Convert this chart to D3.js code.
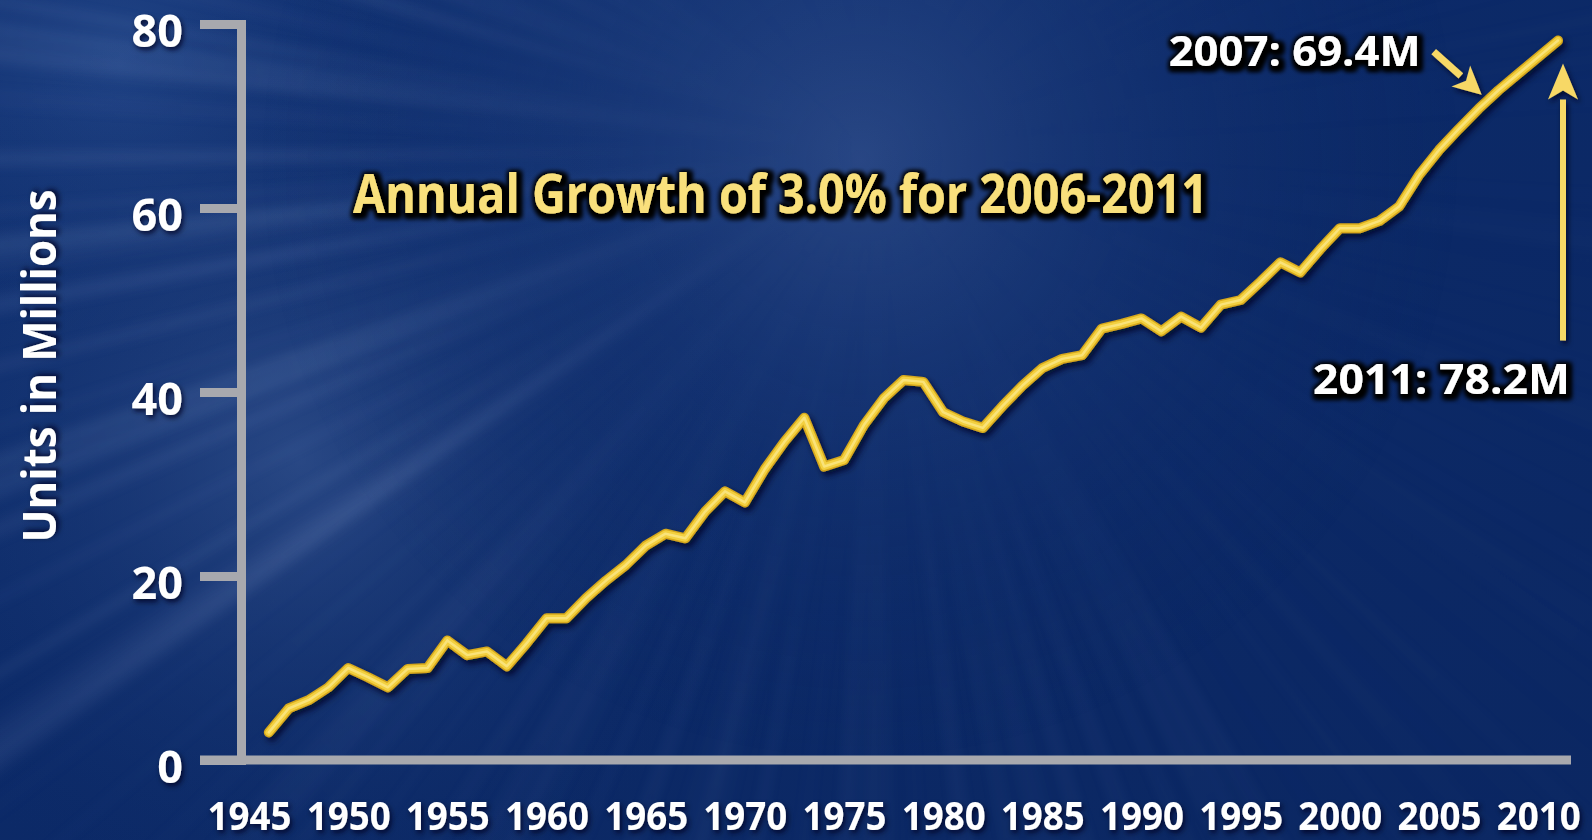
<!DOCTYPE html>
<html>
<head>
<meta charset="utf-8">
<script src="https://cdn.jsdelivr.net/npm/d3@7"></script>
<style>
  html, body { margin:0; padding:0; background:#0b2966; overflow:hidden; }
  svg { display:block; }
  text { font-family:"Open Sans", sans-serif; font-weight:700; }
</style>
</head>
<body>
<div id="chart"></div>
<script>
// chart data
const YEARS = [1946,1947,1948,1949,1950,1951,1952,1953,1954,1955,1956,1957,1958,1959,
               1960,1961,1962,1963,1964,1965,1966,1967,1968,1969,1970,1971,1972,1973,
               1974,1975,1976,1977,1978,1979,1980,1981,1982,1983,1984,1985,1986,1987,
               1988,1989,1990,1991,1992,1993,1994,1995,1996,1997,1998,1999,2000,2001,
               2002,2003,2004,2005,2006,2007,2008,2009,2010,2011];
const UNITS = [3.0, 5.6, 6.5, 7.9,10.0, 9.0, 7.9, 9.9,10.0,13.0,11.4,11.8,10.2,12.7,
               15.4,15.4,17.6,19.5,21.2,23.3,24.6,24.1,27.0,29.2,28.0,31.6,34.6,37.2,
               31.9,32.6,36.4,39.3,41.3,41.1,37.8,36.8,36.1,38.5,40.7,42.6,43.6,44.0,
               46.9,47.4,48.0,46.6,48.2,47.0,49.5,50.0,52.0,54.1,53.0,55.5,57.8,57.8,
               58.6,60.2,63.6,66.3,68.6,70.8,72.8,74.6,76.4,78.2];
const X_TICKS = [1945,1950,1955,1960,1965,1970,1975,1980,1985,1990,1995,2000,2005,2010];
const Y_TICKS = [0,20,40,60,80];

const TITLE   = "Annual Growth of 3.0% for 2006-2011";
const Y_TITLE = "Units in Millions";
const CALLOUT_YEARS  = [2007, 2011];
const CALLOUT_LABELS = ["2007: 69.4M", "2011: 78.2M"];

const W = 1592, H = 840;
const AXIS_GREY = "#a8a9ae";
const GOLD = "#f3d03f";

const svg = d3.select("#chart").append("svg")
  .attr("width", W).attr("height", H);

const defs = svg.append("defs");

// ── background ──────────────────────────────────────────────
const bgGrad = defs.append("linearGradient").attr("id", "bgGrad")
  .attr("x1", 0).attr("y1", 0).attr("x2", 1).attr("y2", 1);
bgGrad.append("stop").attr("offset", "0%").attr("stop-color", "#143576");
bgGrad.append("stop").attr("offset", "40%").attr("stop-color", "#0c2a68");
bgGrad.append("stop").attr("offset", "100%").attr("stop-color", "#0b2762");

const glow = defs.append("radialGradient").attr("id", "glow")
  .attr("gradientUnits", "userSpaceOnUse")
  .attr("cx", 860).attr("cy", 160).attr("r", 600);
glow.append("stop").attr("offset", "0%").attr("stop-color", "#5674b0").attr("stop-opacity", 0.38);
glow.append("stop").attr("offset", "40%").attr("stop-color", "#2f4f90").attr("stop-opacity", 0.25);
glow.append("stop").attr("offset", "100%").attr("stop-color", "#0e2d6c").attr("stop-opacity", 0);

const leftHaze = defs.append("radialGradient").attr("id", "leftHaze")
  .attr("gradientUnits", "userSpaceOnUse")
  .attr("cx", 300).attr("cy", 460).attr("r", 470);
leftHaze.append("stop").attr("offset", "0%").attr("stop-color", "#4565a0").attr("stop-opacity", 0.5);
leftHaze.append("stop").attr("offset", "100%").attr("stop-color", "#0e2d6c").attr("stop-opacity", 0);

const cornerHaze = defs.append("radialGradient").attr("id", "cornerHaze")
  .attr("gradientUnits", "userSpaceOnUse")
  .attr("cx", 120).attr("cy", 60).attr("r", 320);
cornerHaze.append("stop").attr("offset", "0%").attr("stop-color", "#2a4f92").attr("stop-opacity", 0.6);
cornerHaze.append("stop").attr("offset", "100%").attr("stop-color", "#0e2d6c").attr("stop-opacity", 0);

const rayBlur = defs.append("filter").attr("id", "rayBlur")
  .attr("x", "-20%").attr("y", "-20%").attr("width", "140%").attr("height", "140%");
rayBlur.append("feGaussianBlur").attr("stdDeviation", 6);

// rays fade in away from their source
const rayFade = defs.append("radialGradient").attr("id", "rayFade")
  .attr("gradientUnits", "userSpaceOnUse")
  .attr("cx", 880).attr("cy", 150).attr("r", 1000);
rayFade.append("stop").attr("offset", "0%").attr("stop-color", "#fff").attr("stop-opacity", 0);
rayFade.append("stop").attr("offset", "25%").attr("stop-color", "#fff").attr("stop-opacity", 0.5);
rayFade.append("stop").attr("offset", "60%").attr("stop-color", "#fff").attr("stop-opacity", 1);
rayFade.append("stop").attr("offset", "100%").attr("stop-color", "#fff").attr("stop-opacity", 0.6);
defs.append("mask").attr("id", "rayMask")
  .append("rect").attr("width", W).attr("height", H).attr("fill", "url(#rayFade)");

svg.append("rect").attr("width", W).attr("height", H).attr("fill", "url(#bgGrad)");
svg.append("rect").attr("width", W).attr("height", H).attr("fill", "url(#cornerHaze)");
svg.append("rect").attr("width", W).attr("height", H).attr("fill", "url(#leftHaze)");

// light streaks fanning out from a point behind the title
const rayG = svg.append("g").attr("filter", "url(#rayBlur)").attr("mask", "url(#rayMask)");
const RC = [880, 150];
d3.range(160).forEach(i => {
  const a  = (i / 160) * Math.PI * 2 + 0.03 * Math.sin(i * 7.3);
  const da = 0.003 + 0.008 * Math.abs(Math.sin(i * 3.7));
  const deg = ((a * 180 / Math.PI) % 360 + 360) % 360;
  let op = 0.01 + 0.025 * Math.abs(Math.sin(i * 1.9));
  if (deg > 145 && deg < 215) op *= 3.6;       // strong on the left
  else if (deg > 60 && deg < 145) op *= 1.4;   // softer towards the bottom
  else op *= 0.5;
  const L = 1500;
  const p = [
    [RC[0], RC[1]],
    [RC[0] + L * Math.cos(a - da), RC[1] + L * Math.sin(a - da)],
    [RC[0] + L * Math.cos(a + da), RC[1] + L * Math.sin(a + da)]
  ];
  rayG.append("path")
    .attr("d", "M" + p.join("L") + "Z")
    .attr("fill", "#a9bfea")
    .attr("opacity", op);
});
svg.append("rect").attr("width", W).attr("height", H).attr("fill", "url(#glow)");

// ── filters ────────────────────────────────────────────────
const txtShadow = defs.append("filter").attr("id", "txtShadow")
  .attr("x", "-10%").attr("y", "-30%").attr("width", "120%").attr("height", "160%");
txtShadow.append("feMorphology").attr("in", "SourceAlpha").attr("operator", "dilate")
  .attr("radius", 3).attr("result", "fat");
txtShadow.append("feGaussianBlur").attr("in", "fat").attr("stdDeviation", 2.5).attr("result", "blur");
txtShadow.append("feOffset").attr("in", "blur").attr("dx", 2).attr("dy", 2).attr("result", "off");
txtShadow.append("feFlood").attr("flood-color", "#000").attr("flood-opacity", 1).attr("result", "col");
txtShadow.append("feComposite").attr("in", "col").attr("in2", "off").attr("operator", "in").attr("result", "shadow");
const tm = txtShadow.append("feMerge");
tm.append("feMergeNode").attr("in", "shadow");
tm.append("feMergeNode").attr("in", "shadow");
tm.append("feMergeNode").attr("in", "SourceGraphic");

// lighter shadow for axis numbers
const numShadow = defs.append("filter").attr("id", "numShadow")
  .attr("x", "-20%").attr("y", "-30%").attr("width", "140%").attr("height", "160%");
numShadow.append("feGaussianBlur").attr("in", "SourceAlpha").attr("stdDeviation", 2.5).attr("result", "blur");
numShadow.append("feOffset").attr("in", "blur").attr("dx", 2).attr("dy", 3).attr("result", "off");
numShadow.append("feFlood").attr("flood-color", "#000a20").attr("flood-opacity", 0.8).attr("result", "col");
numShadow.append("feComposite").attr("in", "col").attr("in2", "off").attr("operator", "in").attr("result", "shadow");
const nm = numShadow.append("feMerge");
nm.append("feMergeNode").attr("in", "shadow");
nm.append("feMergeNode").attr("in", "SourceGraphic");

const lineShadow = defs.append("filter").attr("id", "lineShadow")
  .attr("x", "-5%").attr("y", "-5%").attr("width", "110%").attr("height", "110%");
lineShadow.append("feGaussianBlur").attr("in", "SourceAlpha").attr("stdDeviation", 3).attr("result", "blur");
lineShadow.append("feOffset").attr("in", "blur").attr("dx", 3).attr("dy", 4).attr("result", "off");
lineShadow.append("feFlood").attr("flood-color", "#000a25").attr("flood-opacity", 0.85).attr("result", "col");
lineShadow.append("feComposite").attr("in", "col").attr("in2", "off").attr("operator", "in").attr("result", "shadow");
const lm = lineShadow.append("feMerge");
lm.append("feMergeNode").attr("in", "shadow");
lm.append("feMergeNode").attr("in", "SourceGraphic");

// ── scales ────────────────────────────────────────────────
const x = d3.scaleLinear().domain([1945, 2011]).range([249, 1558]);
const y = d3.scaleLinear().domain([0, 80]).range([760, 24]);

const yAxisX  = 241;
const tickLen = 41;

// y axis
const yAxis = svg.append("g")
  .attr("transform", `translate(${yAxisX},0)`)
  .call(d3.axisLeft(y).tickValues(Y_TICKS).tickSize(tickLen).tickSizeOuter(0).tickPadding(17));
yAxis.select(".domain")
  .attr("stroke", AXIS_GREY).attr("stroke-width", 9).attr("stroke-linecap", "square");
yAxis.selectAll(".tick line")
  .attr("stroke", AXIS_GREY).attr("stroke-width", 9);
yAxis.selectAll(".tick text")
  .attr("fill", "#fff")
  .attr("dy", "0.5em")
  .style("font-size", "45px")
  .attr("filter", "url(#numShadow)");

// x axis
const xAxis = svg.append("g")
  .attr("transform", `translate(0,${y(0)})`)
  .call(d3.axisBottom(x).tickValues(X_TICKS).tickSize(0).tickFormat(d3.format("d")));
xAxis.select(".domain").remove();
xAxis.insert("line", ":first-child")
  .attr("x1", yAxisX - tickLen).attr("x2", x(2011) + 13)
  .attr("y1", 0).attr("y2", 0)
  .attr("stroke", AXIS_GREY).attr("stroke-width", 9);
xAxis.selectAll(".tick text")
  .attr("y", 69.5).attr("dy", 0)
  .attr("fill", "#fff")
  .style("font-size", "39.5px")
  .attr("textLength", 84).attr("lengthAdjust", "spacingAndGlyphs")
  .attr("filter", "url(#numShadow)");

// y title
svg.append("text")
  .attr("transform", `translate(56,${(y(0) + y(80)) / 2 - 26}) rotate(-90)`)
  .attr("text-anchor", "middle")
  .attr("fill", "#fff")
  .style("font-size", "46px")
  .attr("textLength", 353).attr("lengthAdjust", "spacingAndGlyphs")
  .attr("filter", "url(#numShadow)")
  .text(Y_TITLE);

// title
svg.append("text")
  .attr("x", 353).attr("y", 213)
  .attr("fill", "#f9e07c")
  .style("font-size", "54px")
  .attr("textLength", 855).attr("lengthAdjust", "spacingAndGlyphs")
  .attr("filter", "url(#txtShadow)")
  .text(TITLE);

// ── series line ───────────────────────────────────────────
const series = YEARS.map((yr, i) => ({ year: yr, value: UNITS[i] }));
const line = d3.line().x(d => x(d.year)).y(d => y(d.value));

const lineG = svg.append("g").attr("filter", "url(#lineShadow)");
lineG.append("path").datum(series)
  .attr("d", line).attr("fill", "none")
  .attr("stroke", "#d6a81c").attr("stroke-width", 10)
  .attr("stroke-linejoin", "round").attr("stroke-linecap", "round");
lineG.append("path").datum(series)
  .attr("d", line).attr("fill", "none")
  .attr("stroke", GOLD).attr("stroke-width", 7)
  .attr("stroke-linejoin", "round").attr("stroke-linecap", "round");
lineG.append("path").datum(series)
  .attr("d", line).attr("fill", "none")
  .attr("stroke", "#fce98e").attr("stroke-width", 2.5).attr("stroke-opacity", 0.75)
  .attr("stroke-linejoin", "round").attr("stroke-linecap", "round");

// ── callouts ──────────────────────────────────────────────
function arrow(g, x1, y1, x2, y2, w, headL, headW) {
  const ang = Math.atan2(y2 - y1, x2 - x1);
  const bx = x2 - headL * Math.cos(ang), by = y2 - headL * Math.sin(ang);
  g.append("line")
    .attr("x1", x1).attr("y1", y1).attr("x2", bx).attr("y2", by)
    .attr("stroke", "#f7d866").attr("stroke-width", w);
  const nx = -Math.sin(ang), ny = Math.cos(ang);
  const pts = [
    [x2, y2],
    [bx + nx * headW, by + ny * headW],
    [bx + headL * 0.25 * Math.cos(ang), by + headL * 0.25 * Math.sin(ang)],
    [bx - nx * headW, by - ny * headW]
  ];
  g.append("path").attr("d", "M" + pts.join("L") + "Z").attr("fill", "#f7d866");
}

const pt = CALLOUT_YEARS.map(yr => {
  const i = YEARS.indexOf(yr);
  return [x(yr), y(UNITS[i])];
});

const arrowG = svg.append("g").attr("filter", "url(#numShadow)");
arrow(arrowG, pt[0][0] - 45, pt[0][1] - 57, pt[0][0] + 3, pt[0][1] - 14, 7, 28, 14);
arrow(arrowG, pt[1][0] + 5, pt[1][1] + 300, pt[1][0] + 5, pt[1][1] + 23, 6, 36, 15);

const calloutG = svg.append("g").attr("filter", "url(#txtShadow)");
// 2007 label, arrow pointing down-right to the line
calloutG.append("text")
  .attr("x", pt[0][0] - 58).attr("y", pt[0][1] - 43)
  .attr("text-anchor", "end")
  .attr("fill", "#fff")
  .style("font-size", "42px")
  .attr("textLength", 252).attr("lengthAdjust", "spacingAndGlyphs")
  .text(CALLOUT_LABELS[0]);

// 2011 label below, arrow pointing up to the end of the line
calloutG.append("text")
  .attr("x", pt[1][0] + 12).attr("y", pt[1][1] + 353)
  .attr("text-anchor", "end")
  .attr("fill", "#fff")
  .style("font-size", "42px")
  .attr("textLength", 257).attr("lengthAdjust", "spacingAndGlyphs")
  .text(CALLOUT_LABELS[1]);
</script>
</body>
</html>
